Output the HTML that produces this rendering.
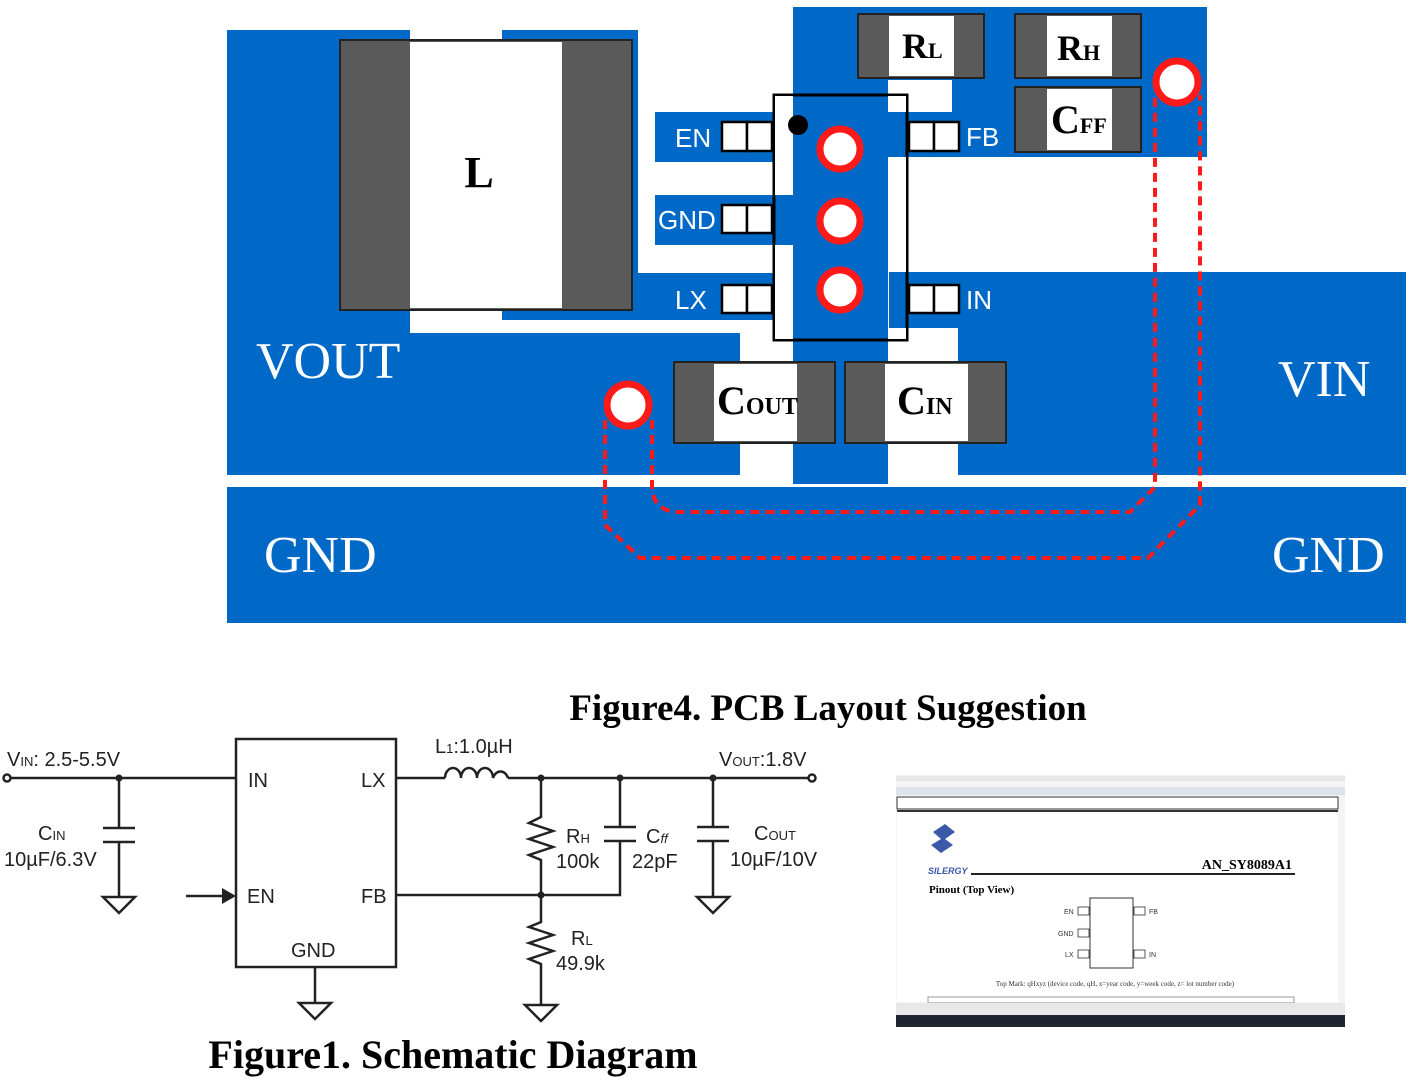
<!DOCTYPE html>
<html><head><meta charset="utf-8"><style>
html,body{margin:0;padding:0;background:#fff}
svg{display:block}
</style></head><body>
<svg width="1409" height="1080" viewBox="0 0 1409 1080" xmlns="http://www.w3.org/2000/svg">
<g fill="#0068c6">
  <rect x="227" y="30" width="183" height="445"/>
  <rect x="227" y="333" width="513" height="142"/>
  <rect x="502" y="30" width="136" height="290"/>
  <rect x="600" y="273" width="175" height="47"/>
  <rect x="655" y="112" width="120" height="50"/>
  <rect x="655" y="195" width="140" height="50"/>
  <rect x="793" y="7" width="95" height="477"/>
  <rect x="793" y="7" width="414" height="73"/>
  <rect x="952" y="7" width="255" height="150"/>
  <rect x="888" y="112" width="64" height="45"/>
  <rect x="889" y="272" width="517" height="56"/>
  <rect x="958" y="272" width="448" height="203"/>
  <rect x="227" y="487" width="1179" height="136"/>
</g>
<rect x="340" y="40" width="292" height="270" fill="#5a5a5a" stroke="#222" stroke-width="2"/>
<rect x="410" y="42" width="152" height="266" fill="#fff"/>
<text x="479" y="187" font-family="Liberation Serif" font-weight="bold" font-size="44" text-anchor="middle">L</text>
<rect x="774" y="95" width="133" height="245" fill="none" stroke="#000" stroke-width="3"/>
<rect x="775" y="96" width="18" height="99" fill="#fff"/>
<rect x="775" y="245" width="18" height="94" fill="#fff"/>
<rect x="888" y="96" width="18" height="16" fill="#fff"/>
<rect x="888" y="157" width="18" height="115" fill="#fff"/>
<rect x="888" y="328" width="18" height="11" fill="#fff"/>
<circle cx="798" cy="125" r="10" fill="#000"/>
<g fill="#fff" stroke="#000" stroke-width="2.5">
  <rect x="722" y="122" width="25" height="29"/><rect x="747" y="122" width="25" height="29"/>
  <rect x="722" y="205" width="25" height="28"/><rect x="747" y="205" width="25" height="28"/>
  <rect x="722" y="285" width="25" height="28"/><rect x="747" y="285" width="25" height="28"/>
  <rect x="909" y="122" width="25" height="29"/><rect x="934" y="122" width="25" height="29"/>
  <rect x="909" y="285" width="25" height="28"/><rect x="934" y="285" width="25" height="28"/>
</g>
<g font-family="Liberation Sans" font-size="26" fill="#fff">
  <text x="675" y="147">EN</text>
  <text x="658" y="229">GND</text>
  <text x="675" y="309">LX</text>
  <text x="966" y="146">FB</text>
  <text x="966" y="309">IN</text>
</g>
<g>
  <rect x="858" y="14" width="126" height="64" fill="#5a5a5a" stroke="#222" stroke-width="2"/><rect x="889" y="16" width="65" height="60" fill="#fff"/>
  <rect x="1015" y="14" width="126" height="64" fill="#5a5a5a" stroke="#222" stroke-width="2"/><rect x="1047" y="16" width="65" height="60" fill="#fff"/>
  <rect x="1015" y="87" width="126" height="65" fill="#5a5a5a" stroke="#222" stroke-width="2"/><rect x="1047" y="89" width="65" height="61" fill="#fff"/>
  <rect x="674" y="362" width="161" height="81" fill="#5a5a5a" stroke="#222" stroke-width="2"/><rect x="714" y="364" width="83" height="77" fill="#fff"/>
  <rect x="845" y="362" width="161" height="81" fill="#5a5a5a" stroke="#222" stroke-width="2"/><rect x="885" y="364" width="83" height="77" fill="#fff"/>
</g>
<g font-family="Liberation Serif" font-weight="bold" fill="#000">
  <text x="902" y="58" font-size="36">R<tspan font-size="22">L</tspan></text>
  <text x="1057" y="60" font-size="36">R<tspan font-size="22">H</tspan></text>
  <text x="1051" y="133" font-size="40">C<tspan font-size="22">FF</tspan></text>
  <text x="717" y="414" font-size="40">C<tspan font-size="24">OUT</tspan></text>
  <text x="897" y="414" font-size="40">C<tspan font-size="24">IN</tspan></text>
</g>
<g font-family="Liberation Serif" font-size="52" fill="#fff">
  <text x="256" y="378">VOUT</text>
  <text x="1278" y="396">VIN</text>
  <text x="264" y="572">GND</text>
  <text x="1272" y="572">GND</text>
</g>
<g fill="none" stroke="#ff1a1a" stroke-width="4" stroke-dasharray="9,6">
  <path d="M652 420 V485 Q652 512 680 512 H1130 L1155 487 V95"/>
  <path d="M605 420 V525 L640 558 H1148 L1200 505 V95"/>
</g>
<g fill="#fff" stroke="#ff1a1a" stroke-width="7">
  <circle cx="840" cy="149" r="20"/>
  <circle cx="840" cy="221" r="20"/>
  <circle cx="840" cy="290" r="20"/>
  <circle cx="1177" cy="82" r="21"/>
  <circle cx="628" cy="405" r="21"/>
</g>
<text x="828" y="720" font-family="Liberation Serif" font-weight="bold" font-size="37" text-anchor="middle">Figure4. PCB Layout Suggestion</text>
<text x="453" y="1068" font-family="Liberation Serif" font-weight="bold" font-size="40" text-anchor="middle">Figure1. Schematic Diagram</text>
<g fill="none" stroke="#222" stroke-width="2.5">
  <rect x="236" y="739" width="160" height="228"/>
  <path d="M10 778 H236"/>
  <circle cx="7" cy="778" r="3.5" fill="#fff"/>
  <path d="M119 778 V828 M103 828 H135 M103 842 H135 M119 842 V897 M103 897 H135 L119 913 Z"/>
  <path d="M186 896 H222"/>
  <path d="M396 778 H445 M508 778 H809"/>
  <path d="M445 778 a8 10 0 0 1 16 0 a8 10 0 0 1 16 0 a8 10 0 0 1 16 0 a8 10 0 0 1 15 0"/>
  <circle cx="812" cy="778" r="3.5" fill="#fff"/>
  <path d="M541 778 V817 l-12 6 l24 8 l-24 8 l24 8 l-24 8 l12 5 V895"/>
  <path d="M620 778 V827 M604 827 H636 M604 841 H636 M620 841 V895 H396"/>
  <path d="M541 895 V922 l-12 5 l24 8 l-24 8 l24 8 l-24 8 l12 5 V1005 M525 1005 H557 L541 1021 Z"/>
  <path d="M713 778 V827 M697 827 H729 M697 841 H729 M713 841 V897 M697 897 H729 L713 913 Z"/>
  <path d="M315 967 V1003 M299 1003 H331 L315 1019 Z"/>
</g>
<path d="M222 888 L236 896 L222 904 Z" fill="#222"/>
<g fill="#222" stroke="none">
  <circle cx="119" cy="778" r="3.5"/><circle cx="541" cy="778" r="3.5"/><circle cx="620" cy="778" r="3.5"/><circle cx="713" cy="778" r="3.5"/><circle cx="541" cy="895" r="3.5"/>
</g>
<g font-family="Liberation Sans" font-size="20" fill="#222">
  <text x="7" y="766">V<tspan font-size="13">IN</tspan>: 2.5-5.5V</text>
  <text x="38" y="840">C<tspan font-size="13">IN</tspan></text>
  <text x="4" y="866">10µF/6.3V</text>
  <text x="248" y="787">IN</text><text x="361" y="787">LX</text>
  <text x="247" y="903">EN</text><text x="361" y="903">FB</text>
  <text x="291" y="957">GND</text>
  <text x="435" y="753">L<tspan font-size="13">1</tspan>:1.0µH</text>
  <text x="719" y="766">V<tspan font-size="13">OUT</tspan>:1.8V</text>
  <text x="566" y="843">R<tspan font-size="13">H</tspan></text>
  <text x="556" y="868">100k</text>
  <text x="646" y="843">C<tspan font-size="13" font-style="italic">ff</tspan></text>
  <text x="632" y="868">22pF</text>
  <text x="754" y="840">C<tspan font-size="13">OUT</tspan></text>
  <text x="730" y="866">10µF/10V</text>
  <text x="571" y="945">R<tspan font-size="13">L</tspan></text>
  <text x="556" y="970">49.9k</text>
</g>
<g>
  <rect x="896" y="775" width="449" height="252" fill="#f4f4f4"/>
  <rect x="896" y="776" width="449" height="5" fill="#e6e6e6"/>
  <rect x="896" y="787" width="449" height="8" fill="#dde3ea"/>
  <rect x="897" y="797" width="441" height="12" fill="#fff" stroke="#333" stroke-width="1"/>
  <rect x="897" y="810" width="441" height="2" fill="#333"/>
  <rect x="897" y="812" width="441" height="190" fill="#fff"/>
  <path d="M933 832 l12 -8 l10 8 l-10 7 l8 6 l-12 8 l-10 -8 l10 -6 z" fill="#3a5aa8"/>
  <text x="928" y="874" font-family="Liberation Sans" font-style="italic" font-weight="bold" font-size="9" fill="#3a5aa8">SILERGY</text>
  <rect x="971" y="873" width="324" height="2" fill="#222"/>
  <text x="1292" y="869" font-family="Liberation Serif" font-weight="bold" font-size="14" text-anchor="end">AN_SY8089A1</text>
  <text x="929" y="893" font-family="Liberation Serif" font-weight="bold" font-size="11">Pinout (Top View)</text>
  <rect x="1090" y="898" width="43" height="70" fill="#fff" stroke="#333"/>
  <g fill="none" stroke="#333" stroke-width="0.8">
    <rect x="1078" y="907" width="11" height="8"/><rect x="1078" y="929" width="11" height="8"/><rect x="1078" y="950" width="11" height="8"/>
    <rect x="1134" y="907" width="11" height="8"/><rect x="1134" y="950" width="11" height="8"/>
  </g>
  <g font-family="Liberation Sans" font-size="7" fill="#333">
    <text x="1064" y="914">EN</text><text x="1058" y="936">GND</text><text x="1065" y="957">LX</text>
    <text x="1149" y="914">FB</text><text x="1149" y="957">IN</text>
  </g>
  <text x="1115" y="986" font-family="Liberation Serif" font-size="7" text-anchor="middle" fill="#333">Top Mark: qHxyz (device code, qH, x=year code, y=week code, z= lot number code)</text>
  <rect x="928" y="997" width="366" height="6" fill="none" stroke="#999"/>
  <rect x="896" y="1003" width="449" height="12" fill="#e8e8e8"/>
  <rect x="896" y="1015" width="449" height="12" fill="#1f2430"/>
</g>
</svg>
</body></html>
